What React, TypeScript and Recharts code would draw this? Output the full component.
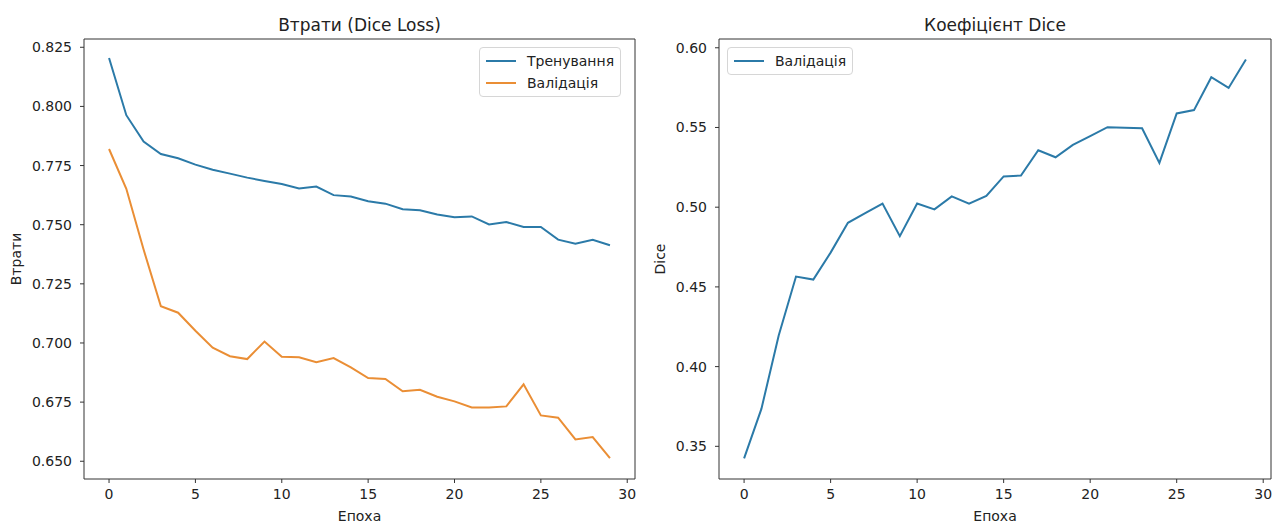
import { Line, LineChart, ReferenceLine, XAxis, YAxis } from "recharts";

const epochs = [0, 1, 2, 3, 4, 5, 6, 7, 8, 9, 10, 11, 12, 13, 14, 15, 16, 17, 18, 19, 20, 21, 22, 23, 24, 25, 26, 27, 28, 29];

const trainLoss = [
  0.8205, 0.7963, 0.7851, 0.7799, 0.7781, 0.7754, 0.7732, 0.7716, 0.7699, 0.7685,
  0.7672, 0.7653, 0.7661, 0.7625, 0.7619, 0.7599, 0.7589, 0.7565, 0.7561, 0.7543,
  0.7532, 0.7535, 0.7501, 0.7511, 0.749, 0.749, 0.7437, 0.742, 0.7436, 0.7413,
];

const valLoss = [
  0.782, 0.7652, 0.7395, 0.7155, 0.7128, 0.7052, 0.698, 0.6944, 0.6932, 0.7006,
  0.6942, 0.694, 0.6919, 0.6936, 0.6897, 0.6852, 0.6848, 0.6796, 0.6802, 0.6773,
  0.6753, 0.6727, 0.6727, 0.6732, 0.6825, 0.6694, 0.6684, 0.6592, 0.6602, 0.6513,
];

const valDice = [
  0.3424, 0.3735, 0.4195, 0.4565, 0.4546, 0.4715, 0.4902, 0.4962, 0.5023, 0.4818,
  0.5023, 0.4986, 0.5068, 0.5022, 0.5071, 0.5193, 0.5199, 0.5357, 0.5313, 0.5391,
  0.5446, 0.5502, 0.5499, 0.5495, 0.5278, 0.5588, 0.5609, 0.5815, 0.5748, 0.5927,
];

const xTicks = [0, 5, 10, 15, 20, 25, 30];
const lossTicks = [0.65, 0.675, 0.7, 0.725, 0.75, 0.775, 0.8, 0.825];
const diceTicks = [0.35, 0.4, 0.45, 0.5, 0.55, 0.6];

const xDomain = [-1.45, 30.45];
const lossDomain = [0.6425, 0.8285];
const diceDomain = [0.3295, 0.6055];

const BLUE = "#2b7aa8";
const ORANGE = "#ea8e35";
const INK = "#222";
const FRAME = "#333";
const FONT = "DejaVu Sans";

const lossRows = epochs.map((e, i) => ({ epoch: e, train: trainLoss[i], val: valLoss[i] }));
const diceRows = epochs.map((e, i) => ({ epoch: e, dice: valDice[i] }));

const lossSeries = [
  { key: "train", name: "Тренування", color: BLUE },
  { key: "val", name: "Валідація", color: ORANGE },
];
const diceSeries = [{ key: "dice", name: "Валідація", color: BLUE }];

const tickStyle = { fill: INK, fontSize: 14, fontFamily: FONT };

function LegendBox({ items, left, top }: { items: { name: string; color: string }[]; left: number; top: number }) {
  return (
    <div
      style={{
        position: "absolute",
        left,
        top,
        border: "1px solid #d6d6d6",
        borderRadius: 4,
        background: "rgba(255,255,255,0.8)",
        padding: "2px 6px",
        fontFamily: FONT,
        fontSize: 14,
        color: INK,
      }}
    >
      {items.map((it) => (
        <div key={it.name} style={{ display: "flex", alignItems: "center", height: 22 }}>
          <span style={{ display: "inline-block", width: 30, height: 2, background: it.color, marginRight: 11 }} />
          <span>{it.name}</span>
        </div>
      ))}
    </div>
  );
}

const text = (s: string, style: React.CSSProperties) => (
  <div style={{ position: "absolute", fontFamily: FONT, color: INK, whiteSpace: "nowrap", ...style }}>{s}</div>
);

function Panel(props: {
  width: number;
  rows: any[];
  series: { key: string; name: string; color: string }[];
  yDomain: number[];
  yTicks: number[];
  yWidth: number;
  right: number;
  digits: number;
}) {
  const { width, rows, series, yDomain, yTicks, yWidth, right, digits } = props;
  return (
    <LineChart width={width} height={524} data={rows} margin={{ top: 39, right, bottom: 0, left: 0 }}>
      <XAxis
        dataKey="epoch"
        type="number"
        domain={xDomain}
        ticks={xTicks}
        allowDataOverflow
        height={45}
        tickSize={4}
        tickMargin={6}
        stroke={FRAME}
        tick={tickStyle}
      />
      <YAxis
        type="number"
        domain={yDomain}
        ticks={yTicks}
        allowDataOverflow
        width={yWidth}
        tickSize={4}
        tickMargin={8}
        stroke={FRAME}
        tick={tickStyle}
        tickFormatter={(v: number) => v.toFixed(digits)}
      />
      <ReferenceLine y={yDomain[1]} stroke={FRAME} ifOverflow="visible" />
      <ReferenceLine x={xDomain[1]} stroke={FRAME} ifOverflow="visible" />
      {series.map((s) => (
        <Line
          key={s.key}
          type="linear"
          dataKey={s.key}
          name={s.name}
          stroke={s.color}
          strokeWidth={2}
          dot={false}
          isAnimationActive={false}
        />
      ))}
    </LineChart>
  );
}

export default function App() {
  return (
    <div style={{ position: "absolute", left: 0, top: 0, width: 1282, height: 524, background: "#fff" }}>
      <div style={{ position: "absolute", left: 0, top: 0 }}>
        <Panel width={640} rows={lossRows} series={lossSeries} yDomain={lossDomain} yTicks={lossTicks} yWidth={84} right={5} digits={3} />
      </div>
      <div style={{ position: "absolute", left: 640, top: 0 }}>
        <Panel width={642} rows={diceRows} series={diceSeries} yDomain={diceDomain} yTicks={diceTicks} yWidth={79} right={11} digits={2} />
      </div>

      <LegendBox items={lossSeries} left={479} top={47} />
      <LegendBox items={diceSeries} left={727} top={47} />

      {text("Втрати (Dice Loss)", { left: 359.5, top: 25, fontSize: 17, transform: "translate(-50%, -50%)" })}
      {text("Коефіцієнт Dice", { left: 995, top: 25, fontSize: 17, transform: "translate(-50%, -50%)" })}
      {text("Епоха", { left: 359.5, top: 516, fontSize: 14, transform: "translate(-50%, -50%)" })}
      {text("Епоха", { left: 995, top: 516, fontSize: 14, transform: "translate(-50%, -50%)" })}
      {text("Втрати", { left: 16, top: 259, fontSize: 14, transform: "translate(-50%, -50%) rotate(-90deg)" })}
      {text("Dice", { left: 660, top: 259, fontSize: 14, transform: "translate(-50%, -50%) rotate(-90deg)" })}
    </div>
  );
}
